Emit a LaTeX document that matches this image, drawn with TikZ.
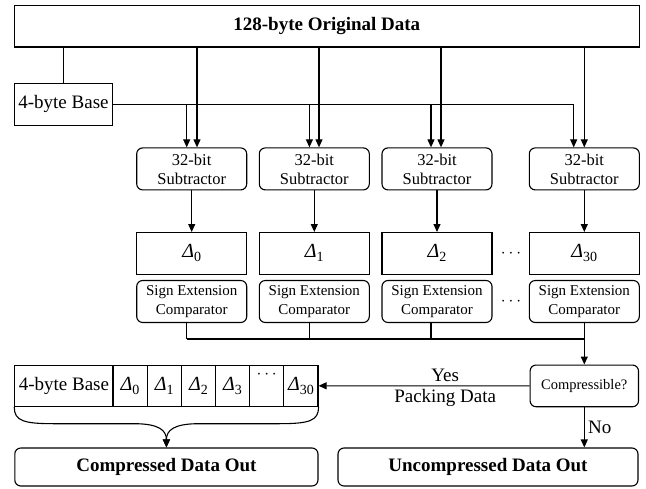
\documentclass[tikz,border=0pt]{standalone}
\usepackage{fontspec}
\setmainfont{Liberation Serif}
\usetikzlibrary{arrows.meta}

\newcommand{\fbig}{\fontsize{19}{22}\selectfont}
\newcommand{\fmid}{\fontsize{16.5}{19}\selectfont}
\newcommand{\fsml}{\fontsize{15}{18.3}\selectfont}
\newcommand{\dlt}[1]{{\fontsize{20}{22}\selectfont\textit{Δ}\raisebox{-4pt}{\fontsize{14}{14}\selectfont#1}}}

\tikzstyle{diagram}=[
    x=1pt, y=-1pt,
    wire/.style={line width=1.1pt},
    flow/.style={wire, -{Triangle[length=8pt,width=7pt]}},
    box/.style={draw, line width=1.1pt, inner sep=0pt, align=center},
    unit/.style={box, rounded corners=6pt, minimum width=110pt, minimum height=42pt},
    cell/.style={box, minimum height=41.5pt},
]

\begin{document}
\begin{tikzpicture}[diagram]
    \useasboundingbox (0,0) rectangle (646,488);

    % input
    \node[box, minimum width=625pt, minimum height=41.3pt, font=\fbig\bfseries] (orig) at (326.8,26.3) {128-byte Original Data};
    \node[box, minimum width=98.4pt, minimum height=41.7pt, font=\fbig] (base) at (63.5,104.2) {4-byte Base};
    \draw[wire] (orig.south -| base.north) -- (base.north);

    % subtractor columns
    \foreach \i/\x/\d/\b/\c in {0/191.7/197/186.7/186.7, 1/314.3/319/309.4/309.4, 2/437/441/431/431, 30/584.3/584.3/573.7/584.3}{
        \coordinate (dtap\i) at (\d,0);
        \coordinate (btap\i) at (\b,0);
        \coordinate (ctap\i) at (\c,0);
        \node[unit, font=\fmid] (sub\i) at (\x,168.9) {32-bit\\Subtractor};
        \node[cell, minimum width=110pt] (delta\i) at (\x,253.3) {\dlt{\i}};
        \node[unit, font=\fsml] (cmp\i) at (\x,301.5) {Sign Extension\\Comparator};
        \draw[flow] (orig.south -| dtap\i) -- (sub\i.north -| dtap\i);
        \draw[flow] (sub\i) -- (delta\i);
    }
    \draw[flow] (base.east) -| (sub30.north -| btap30);
    \foreach \i in {0,1,2}
        \draw[flow] (base.east -| btap\i) -- (sub\i.north -| btap\i);

    \node[font=\fbig] (dotsd) at (511,253.3) {$\cdots$};
    \node[font=\fbig] (dotsc) at (511,301.5) {$\cdots$};

    % comparator bus
    \coordinate (bus) at (0,339);
    \foreach \i in {0,1,2,30}
        \draw[wire] (cmp\i.south -| ctap\i) -- (bus -| ctap\i);
    \draw[wire] (bus -| ctap0) -- (bus -| ctap30);

    \node[unit, minimum width=108.4pt, minimum height=41.7pt, font=\fontsize{14.5}{17}\selectfont] (comp) at (584.3,385.9) {Compressible?};
    \draw[flow] (bus -| ctap30) -- (comp.north);

    % packed output
    \node[cell, minimum width=98.2pt, font=\fbig] (pbase) at (63.9,385.8) {4-byte Base};
    \foreach \k/\j in {0/0,1/1,2/2,3/3,5/30}
        \node[cell, minimum width=34.17pt] (p\j) at (130.1+34.17*\k,385.8) {\dlt{\j}};
    \node[cell, minimum width=34.17pt] (pdots) at (266.75,385.8) {};
    \node[font=\fbig, inner sep=0pt] (pdotstxt) at (266.75,375) {$\cdots$};

    \draw[flow] (comp.west) -- node[pos=0.4, above, font=\fbig]{Yes} node[pos=0.4, below, font=\fbig]{Packing Data} (p30.east);

    % outputs
    \node[box, rounded corners=6pt, minimum width=303.2pt, minimum height=38pt, font=\fbig\bfseries] (cout) at (166.4,467) {Compressed Data Out};
    \node[box, rounded corners=6pt, minimum width=300pt, minimum height=38pt, font=\fbig\bfseries] (uout) at (488,467) {Uncompressed Data Out};
    \draw[flow] (comp.south) -- node[right, font=\fbig]{No} (uout.north -| comp.south);

    % brace
    \draw[flow] (pbase.south west) .. controls +(0,14) and +(-30,0) .. ++(40,16.6) -- ++(80,0) .. controls +(25,0) and +(0,-17) .. (cout.north);
    \draw[flow] (p30.south east) .. controls +(0,14) and +(30,0) .. ++(-40,16.6) -- ++(-80,0) .. controls +(-25,0) and +(0,-17) .. (cout.north);
\end{tikzpicture}
\end{document}
